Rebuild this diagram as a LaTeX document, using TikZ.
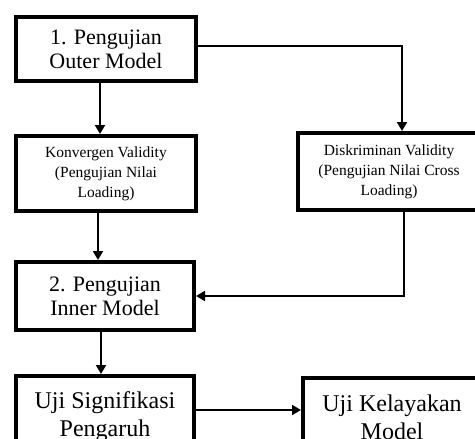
\documentclass[tikz,border=0pt]{standalone}
\usepackage{fontspec}
\setmainfont{Liberation Serif}
\usetikzlibrary{arrows.meta,positioning}

\tikzset{
  box/.style={draw, line width=4pt, inner sep=0pt, align=center},
  bigbox/.style={box, font=\fontsize{22}{24}\selectfont},
  smallbox/.style={box, font=\fontsize{15.5}{20}\selectfont},
  lowbox/.style={box, font=\fontsize{24}{28}\selectfont},
  arr/.style={line width=2pt, -{Triangle[width=10pt,length=9pt]}}
}

\begin{document}
\begin{tikzpicture}[x=1pt,y=-1pt]
 \useasboundingbox (0,0) rectangle (475,439);
 \clip (0,0) rectangle (475,439);

 % outer model
 \node[bigbox, minimum width=180, minimum height=64] (outer) at (106,49) {1. Pengujian\\Outer Model};
 \node[smallbox, minimum width=180, minimum height=75] (konv) at (106,173.5) {Konvergen Validity\\(Pengujian Nilai\\Loading)};
 \node[smallbox, minimum width=182, minimum height=77] (disk) at (389,171.5) {Diskriminan Validity\\(Pengujian Nilai Cross\\Loading)};

 % inner model
 \node[bigbox, minimum width=178, minimum height=68] (inner) at (105,296) {2. Pengujian\\Inner Model};
 \node[lowbox, minimum width=178, minimum height=82] (sig) at (105,417) {Uji Signifikasi\\Pengaruh};
 \node[lowbox, minimum width=178, minimum height=78] (kel) at (392,417) {Uji Kelayakan\\Model};

 % arrows
 \draw[arr] ([xshift=-6pt]outer.south) -- ([xshift=-6pt]outer.south |- konv.north);
 \draw[arr] ([yshift=3pt]outer.east) -| ([xshift=13pt]disk.north);
 \draw[arr] ([xshift=-8pt]konv.south) -- ([xshift=-8pt]konv.south |- inner.north);
 \draw[arr] ([xshift=15pt]disk.south) |- (inner.east);
 \draw[arr] ([xshift=-4pt]inner.south) -- ([xshift=-4pt]inner.south |- sig.north);
 \draw[arr] ([yshift=7pt]sig.east) -- ([yshift=7pt]sig.east -| kel.west);
\end{tikzpicture}
\end{document}
